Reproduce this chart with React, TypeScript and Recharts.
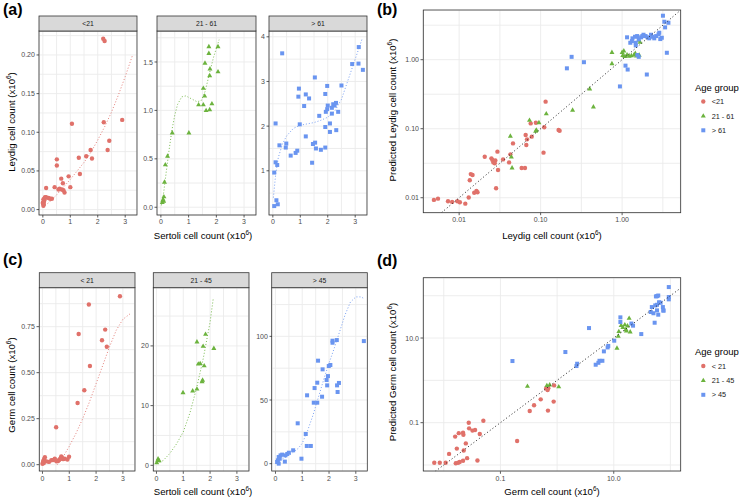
import React from "react";
import { ScatterChart, Scatter, XAxis, YAxis, CartesianGrid } from "recharts";

type Pt = [number, number];
type Box = { x0: number; y0: number; x1: number; y1: number };

const FONT = '"Liberation Sans", Arial, Helvetica, sans-serif';
const RED = "#E0716A";
const GREEN = "#6CB33E";
const BLUE = "#6A95F0";
const GRID = "#EBEBEB";
const INK = "#333333";
const TICK_TXT = "#4D4D4D";

// ---------- panel (a): Leydig vs Sertoli, faceted by age ----------
const leydigGroups = ["<21", "21 - 61", "> 61"];

const leydigYoung: Pt[] = [
  [2.2, 0.221], [2.25, 0.218], [1.06, 0.111], [2.22, 0.113], [2.89, 0.116], [2.42, 0.089],
  [2.36, 0.077], [1.74, 0.077], [1.79, 0.066], [1.58, 0.069], [1.31, 0.067], [0.51, 0.065],
  [0.51, 0.057], [1.35, 0.046], [0.94, 0.043], [0.67, 0.04], [0.73, 0.034], [1.0, 0.029],
  [0.12, 0.028], [0.43, 0.029], [0.61, 0.027], [0.69, 0.026], [0.75, 0.025], [0.79, 0.022],
  [0.57, 0.026], [0.21, 0.015], [0.27, 0.014], [0.33, 0.014], [0.12, 0.016], [0.02, 0.013],
  [0.04, 0.01], [0.01, 0.008], [0.02, 0.005], [0.06, 0.014], [0.07, 0.015], [0.0, 0.009],
  [0.05, 0.012], [0.03, 0.007], [0.08, 0.016],
];
const leydigYoungFit: Pt[] = [
  [0, 0.003], [0.25, 0.01], [0.5, 0.019], [0.75, 0.029], [1, 0.039], [1.25, 0.05], [1.5, 0.061],
  [1.75, 0.074], [2, 0.09], [2.25, 0.107], [2.5, 0.126], [2.75, 0.148], [3, 0.172], [3.27, 0.2],
];

const leydigMid: Pt[] = [
  [1.73, 1.66], [2.06, 1.66], [1.73, 1.59], [1.59, 1.49], [1.77, 1.43], [2.06, 1.4], [1.76, 1.36],
  [1.53, 1.23], [1.58, 1.15], [1.84, 1.07], [1.36, 1.06], [1.53, 1.06], [1.76, 1.01], [1.63, 1.0],
  [0.41, 0.77], [1.01, 0.77], [0.24, 0.53], [0.16, 0.44], [0.13, 0.26], [0.11, 0.11], [0.08, 0.08],
  [0.07, 0.07], [0.05, 0.05], [0.1, 0.065],
];
const leydigMidFit: Pt[] = [
  [0.02, 0.02], [0.1, 0.15], [0.2, 0.38], [0.3, 0.6], [0.4, 0.8], [0.5, 0.95], [0.6, 1.06],
  [0.75, 1.14], [0.9, 1.15], [1.1, 1.12], [1.3, 1.09], [1.45, 1.1], [1.6, 1.2], [1.75, 1.38],
  [1.9, 1.55], [2.1, 1.73],
];

const leydigOld: Pt[] = [
  [0.34, 3.63], [3.13, 3.77], [2.89, 3.39], [3.12, 3.4], [3.28, 3.26], [1.53, 3.09], [2.5, 2.91],
  [1.98, 2.9], [0.95, 2.84], [0.93, 2.66], [1.2, 2.71], [1.32, 2.62], [1.91, 2.72], [1.14, 2.45],
  [2.0, 2.46], [2.2, 2.49], [2.3, 2.52], [2.25, 2.46], [2.15, 2.41], [2.38, 2.32], [2.15, 2.28],
  [1.93, 2.32], [1.98, 2.38], [1.69, 2.23], [2.08, 2.06], [0.1, 2.06], [0.98, 2.04], [1.91, 1.98],
  [2.08, 1.87], [2.31, 1.91], [1.2, 1.77], [0.24, 1.57], [0.49, 1.61], [0.47, 1.52], [1.54, 1.63],
  [1.46, 1.6], [1.57, 1.5], [1.75, 1.47], [1.91, 1.52], [0.89, 1.45], [0.83, 1.4], [0.65, 1.34],
  [1.43, 1.18], [0.1, 1.19], [0.16, 1.13], [0.05, 0.96], [0.13, 0.34], [0.18, 0.25], [0.05, 0.21],
];
const leydigOldFit: Pt[] = [
  [0.02, 0.4], [0.1, 0.9], [0.2, 1.3], [0.35, 1.6], [0.5, 1.78], [0.75, 1.95], [1.0, 2.02],
  [1.25, 2.05], [1.5, 2.08], [1.75, 2.13], [2.0, 2.2], [2.25, 2.33], [2.5, 2.6], [2.75, 3.05],
  [3.0, 3.5], [3.25, 3.95],
];

// ---------- panel (b): predicted vs observed Leydig (log-log) ----------
const leydigPredYoung: Pt[] = [
  [0.0049, 0.0093], [0.0055, 0.0097], [0.0073, 0.0089], [0.0082, 0.0087], [0.0095, 0.0089],
  [0.0102, 0.0086], [0.0119, 0.0082], [0.0131, 0.0101], [0.0139, 0.022], [0.0146, 0.0213],
  [0.0135, 0.0179], [0.0153, 0.0118], [0.0163, 0.0125], [0.0168, 0.012], [0.0206, 0.0393],
  [0.0249, 0.0372], [0.0263, 0.0325], [0.0256, 0.0353], [0.0278, 0.0346], [0.0273, 0.0316],
  [0.0295, 0.0465], [0.03, 0.0252], [0.0284, 0.0137], [0.0346, 0.0359], [0.041, 0.0325],
  [0.0425, 0.0425], [0.0458, 0.0613], [0.0585, 0.027], [0.0643, 0.027], [0.0655, 0.0809],
  [0.0667, 0.058], [0.0681, 0.0701], [0.0777, 0.0767], [0.0755, 0.1194], [0.0874, 0.1222],
  [0.1107, 0.1048], [0.1085, 0.045], [0.1151, 0.2465], [0.166, 0.0958], [0.171, 0.0935],
];
const leydigPredMid: Pt[] = [
  [0.0425, 0.0783], [0.0437, 0.0393], [0.0446, 0.0272], [0.0953, 0.1231], [0.0868, 0.0926],
  [0.0887, 0.0958], [0.073, 0.1334], [0.1173, 0.1652], [0.2467, 0.1868], [0.4443, 0.2082],
  [0.4, 0.38], [0.75, 0.88], [0.75, 1.28], [1.0, 1.28], [1.05, 1.35], [1.02, 1.16], [1.08, 1.12],
  [1.15, 1.18], [1.22, 1.13], [1.3, 1.15], [1.4, 1.18], [1.5, 1.14], [1.45, 1.24], [1.62, 1.17],
  [1.66, 1.8], [1.6, 1.93],
];
const leydigPredOld: Pt[] = [
  [0.21, 0.75], [0.24, 1.1], [0.34, 0.92], [0.94, 0.41], [1.1, 0.82], [1.17, 0.72], [2.01, 0.61],
  [3.54, 1.26], [1.54, 1.17], [1.6, 1.1], [1.15, 2.11], [1.34, 2.04], [1.44, 2.15], [1.53, 2.2],
  [1.71, 2.11], [1.83, 2.3], [1.94, 2.2], [2.05, 2.11], [2.26, 2.3], [2.37, 2.15], [2.48, 2.04],
  [2.62, 2.2], [2.8, 2.33], [2.94, 1.99], [3.07, 2.08], [2.15, 2.04], [1.6, 1.97], [1.32, 1.86],
  [1.47, 1.76], [1.26, 1.76], [1.77, 2.2], [2.86, 2.46], [3.17, 4.34], [3.3, 3.55], [3.7, 3.43],
  [3.37, 2.94], [1.47, 1.61],
];
const leydigIdentity: Pt[] = [[0.0061, 0.0061], [5.19, 5.19]];

// ---------- panel (c): Germ vs Sertoli, faceted by age ----------
const germGroups = ["< 21", "21 - 45", "> 45"];

const germYoung: Pt[] = [
  [2.89, 0.915], [1.73, 0.87], [1.35, 0.71], [2.34, 0.734], [2.22, 0.676], [2.4, 0.641],
  [1.77, 0.536], [1.56, 0.404], [1.31, 0.335], [0.51, 0.203], [0.99, 0.043], [0.02, 0.015],
  [0.04, 0.022], [0.06, 0.03], [0.09, 0.04], [0.15, 0.018], [0.24, 0.015], [0.33, 0.024],
  [0.4, 0.025], [0.46, 0.033], [0.0, 0.005], [0.05, 0.009], [0.52, 0.018], [0.58, 0.02],
  [0.65, 0.03], [0.72, 0.04], [0.77, 0.03], [0.83, 0.032], [0.93, 0.028], [0.7, 0.045],
  [0.62, 0.025], [0.68, 0.035],
];
const germYoungFit: Pt[] = [
  [0.55, 0.0], [0.8, 0.05], [1.0, 0.1], [1.25, 0.17], [1.5, 0.25], [1.75, 0.34], [2.0, 0.44],
  [2.25, 0.54], [2.5, 0.64], [2.75, 0.73], [3.0, 0.79], [3.27, 0.82],
];

const germMid: Pt[] = [
  [1.83, 21.97], [1.51, 20.7], [1.74, 19.97], [2.14, 19.6], [1.56, 17.0], [1.63, 17.07],
  [1.78, 16.7], [1.7, 14.05], [1.51, 12.8], [1.35, 12.5], [0.99, 12.2], [0.06, 1.1], [0.05, 0.84],
  [0.01, 0.45], [0.1, 0.78], [1.72, 14.3],
];
const germMidFit: Pt[] = [
  [0.02, 0.3], [0.25, 0.8], [0.5, 2.0], [0.75, 3.6], [1.0, 5.6], [1.25, 8.8], [1.5, 13.0],
  [1.75, 18.0], [2.0, 24.0], [2.12, 28.0],
];

const germOld: Pt[] = [
  [3.3, 96.3], [2.13, 96.6], [2.13, 95.0], [2.29, 97.1], [1.59, 80.9], [1.76, 74.1], [1.99, 76.7],
  [2.05, 77.5], [1.96, 68.8], [1.91, 65.7], [1.93, 61.5], [1.56, 63.6], [1.46, 59.4], [2.37, 63.4],
  [2.3, 61.5], [2.32, 56.3], [1.74, 52.6], [1.18, 53.7], [1.43, 47.9], [1.56, 47.9], [0.83, 31.7],
  [1.13, 23.3], [1.17, 13.9], [1.32, 13.9], [0.97, 3.9], [0.66, 10.5], [0.5, 8.6], [0.44, 7.6],
  [0.37, 6.5], [0.19, 6.5], [0.12, 5.2], [0.09, 2.6], [0.06, 1.3], [0.16, 3.9], [0.25, 7.1],
  [0.35, 1.6], [0.12, 0.0],
];
const germOldFit: Pt[] = [
  [0.05, 2], [0.3, 4], [0.6, 8], [0.85, 12], [1.0, 16], [1.2, 26], [1.4, 38], [1.6, 52], [1.8, 66],
  [2.0, 79], [2.2, 91], [2.4, 104], [2.6, 117], [2.8, 127], [3.0, 131], [3.2, 131], [3.28, 130],
];

// ---------- panel (d): predicted vs observed Germ (log-log) ----------
const germPredYoung: Pt[] = [
  [0.0068, 0.0113], [0.0085, 0.0113], [0.0108, 0.0113], [0.0163, 0.011], [0.0179, 0.0113],
  [0.0191, 0.0118], [0.0219, 0.0126], [0.0258, 0.0145], [0.0393, 0.0128], [0.0124, 0.0183],
  [0.017, 0.0244], [0.0225, 0.022], [0.0245, 0.0324], [0.0159, 0.0469], [0.0184, 0.0566],
  [0.0219, 0.0578], [0.0222, 0.0517], [0.0276, 0.1], [0.028, 0.0734], [0.0321, 0.0649],
  [0.0357, 0.067], [0.0432, 0.0539], [0.05, 0.111], [0.197, 0.0369], [0.329, 0.189],
  [0.392, 0.258], [0.514, 0.356], [0.69, 0.193], [0.87, 0.315], [0.64, 0.64], [0.68, 0.59],
  [0.7, 0.65], [0.886, 0.76],
];
const germPredMid: Pt[] = [
  [0.3, 0.73], [0.66, 0.76], [0.74, 0.79], [1.07, 0.71], [11.4, 5.8], [12.0, 11.2], [12.3, 14.4],
  [13.5, 19.9], [15.7, 20.7], [18.7, 29.6], [16.4, 16.0], [16.7, 14.9], [19.5, 14.1], [14.5, 18.0],
  [17.5, 19.5],
];
const germPredOld: Pt[] = [
  [0.163, 2.86], [1.4, 4.67], [2.2, 2.18], [2.26, 2.47], [3.66, 17.2], [4.8, 2.34], [5.36, 2.6],
  [5.6, 2.9], [6.3, 2.9], [6.7, 4.84], [7.8, 6.0], [8.0, 6.5], [10.2, 8.65], [13.1, 23.9],
  [13.1, 30.8], [21.9, 19.6], [30.6, 12.4], [44.9, 41.2], [47.0, 53.9], [50.2, 38.5], [52.7, 23.0],
  [54, 59], [55.5, 96.3], [58.1, 97.6], [61, 101], [58, 61], [63, 70], [67.1, 68.2], [73.6, 53.9],
  [75, 45], [61, 35.6], [58, 45], [93.6, 160], [93.6, 93], [93.6, 82], [75.6, 44.3], [20.5, 22],
];
const germIdentity: Pt[] = [[0.0071, 0.0071], [150, 150]];

// ---------- tick values ----------
const sertoliTicks = [0, 0.5, 1, 1.5, 2, 2.5, 3];
const sertoliMajor = [0, 1, 2, 3];
const leydigYoungTicks = [0, 0.025, 0.05, 0.075, 0.1, 0.125, 0.15, 0.175, 0.2, 0.225];
const leydigYoungMajor = [0, 0.05, 0.1, 0.15, 0.2];
const leydigMidTicks = [0, 0.25, 0.5, 0.75, 1, 1.25, 1.5, 1.75];
const leydigMidMajor = [0, 0.5, 1, 1.5];
const leydigOldTicks = [0.5, 1, 1.5, 2, 2.5, 3, 3.5, 4];
const leydigOldMajor = [1, 2, 3, 4];
const germYoungTicks = [0, 0.125, 0.25, 0.375, 0.5, 0.625, 0.75, 0.875];
const germYoungMajor = [0, 0.25, 0.5, 0.75];
const germMidTicks = [0, 5, 10, 15, 20, 25];
const germMidMajor = [0, 10, 20];
const germOldTicks = [0, 25, 50, 75, 100, 125];
const germOldMajor = [0, 50, 100];
const leydigLogTicks = [0.01, 0.0316, 0.1, 0.316, 1, 3.16];
const leydigLogMajor = [0.01, 0.1, 1];
const germLogTicks = [0.01, 0.1, 1, 10, 100];
const germLogMajor = [0.1, 10];

// ---------- layout ----------
const A_BOXES: Box[] = [
  { x0: 39, y0: 31, x1: 137, y1: 215 },
  { x0: 157, y0: 31, x1: 256, y1: 215 },
  { x0: 269, y0: 31, x1: 367, y1: 215 },
];
const C_BOXES: Box[] = [
  { x0: 39.3, y0: 287.7, x1: 135, y1: 471 },
  { x0: 153.3, y0: 287.7, x1: 249, y1: 471 },
  { x0: 271.7, y0: 287.7, x1: 367.3, y1: 471 },
];
const B_BOX: Box = { x0: 423.3, y0: 10, x1: 680.7, y1: 212.7 };
const D_BOX: Box = { x0: 423.3, y0: 277.7, x1: 680.7, y1: 471 };
const STRIP_H = 15;

const YW = 40;
const XH = 20;
const TS = 2.5;
const TM = 1.6;

type Marker = "circle" | "triangle" | "square" | "none";
type Layer = { data: Pt[]; color: string; marker: Marker; line?: "fit" | "identity" };

const isMajor = (v: number, majors: number[]) => majors.some((m) => Math.abs(m - v) < 1e-9);
const toXY = (pts: Pt[]) => pts.map(([x, y]) => ({ x, y }));

function markerShape(m: Marker, color: string) {
  if (m === "circle") return (p: any) => <circle cx={p.cx} cy={p.cy} r={2.2} fill={color} />;
  if (m === "triangle")
    return (p: any) => (
      <polygon
        points={`${p.cx},${p.cy - 2.7} ${p.cx - 2.5},${p.cy + 1.7} ${p.cx + 2.5},${p.cy + 1.7}`}
        fill={color}
      />
    );
  if (m === "square")
    return (p: any) => <rect x={p.cx - 2} y={p.cy - 2} width={4} height={4} fill={color} />;
  return () => <g />;
}

type PanelProps = {
  box: Box;
  xDomain: [number, number];
  yDomain: [number, number];
  xTicks: number[];
  xMajor: number[];
  yTicks: number[];
  yMajor: number[];
  xFmt: (v: number) => string;
  yFmt: (v: number) => string;
  log?: boolean;
  layers: Layer[];
};

function Panel({ box, xDomain, yDomain, xTicks, xMajor, yTicks, yMajor, xFmt, yFmt, log, layers }: PanelProps) {
  const w = box.x1 - box.x0;
  const h = box.y1 - box.y0;
  const xTick = (p: any) => {
    const v = p.payload.value;
    if (!isMajor(v, xMajor)) return <g />;
    return (
      <g>
        <line x1={p.x} x2={p.x} y1={p.y - TM - TS} y2={p.y - TM} stroke={INK} strokeWidth={0.8} />
        <text x={p.x} y={p.y} dy="0.75em" textAnchor="middle" fontSize={7} fill={TICK_TXT} fontFamily={FONT}>
          {xFmt(v)}
        </text>
      </g>
    );
  };
  const yTick = (p: any) => {
    const v = p.payload.value;
    if (!isMajor(v, yMajor)) return <g />;
    return (
      <g>
        <line x1={p.x + TM} x2={p.x + TM + TS} y1={p.y} y2={p.y} stroke={INK} strokeWidth={0.8} />
        <text x={p.x} y={p.y} dy="0.36em" textAnchor="end" fontSize={7} fill={TICK_TXT} fontFamily={FONT}>
          {yFmt(v)}
        </text>
      </g>
    );
  };
  return (
    <div style={{ position: "absolute", left: box.x0 - YW, top: box.y0 }}>
      <ScatterChart width={w + YW} height={h + XH} margin={{ top: 0, right: 0, bottom: 0, left: 0 }}>
        <CartesianGrid stroke={GRID} strokeWidth={0.9} />
        <XAxis
          type="number"
          dataKey="x"
          domain={xDomain}
          allowDataOverflow
          scale={log ? "log" : "linear"}
          ticks={xTicks}
          interval={0}
          height={XH}
          axisLine={false}
          tickLine={false}
          tickSize={TS}
          tickMargin={TM}
          tick={xTick}
        />
        <YAxis
          type="number"
          dataKey="y"
          domain={yDomain}
          allowDataOverflow
          scale={log ? "log" : "linear"}
          ticks={yTicks}
          interval={0}
          width={YW}
          axisLine={false}
          tickLine={false}
          tickSize={TS}
          tickMargin={TM}
          tick={yTick}
        />
        {layers.map((l, i) => (
          <Scatter
            key={i}
            data={toXY(l.data)}
            fill={l.color}
            isAnimationActive={false}
            shape={markerShape(l.marker, l.color)}
            line={
              l.line
                ? {
                    stroke: l.color,
                    strokeWidth: l.line === "identity" ? 1 : 0.9,
                    strokeDasharray: l.line === "identity" ? "1 2.4" : "1 2",
                  }
                : false
            }
          />
        ))}
      </ScatterChart>
    </div>
  );
}

const GROUP_COLORS = [RED, GREEN, BLUE];
const GROUP_MARKERS: Marker[] = ["circle", "triangle", "square"];
const fix = (n: number) => (v: number) => v.toFixed(n);
const plain = (v: number) => String(v);

function AxisTitle({ x, y, label, rotate }: { x: number; y: number; label: string; rotate?: boolean }) {
  return (
    <text
      x={x}
      y={y}
      textAnchor="middle"
      fontSize={9.6}
      fill="#000"
      fontFamily={FONT}
      transform={rotate ? `rotate(-90 ${x} ${y})` : undefined}
    >
      {label} (x10
      <tspan dy={-3.6} fontSize={6.4}>
        6
      </tspan>
      <tspan dy={3.6}>)</tspan>
    </text>
  );
}

function LegendKey({ x, y, title, labels }: { x: number; y: number; title: string; labels: string[] }) {
  return (
    <g fontFamily={FONT}>
      <text x={x} y={y} fontSize={9.5} fill="#000">
        {title}
      </text>
      {labels.map((lab, i) => {
        const cy = y + 11 + i * 14.4;
        const cx = x + 8.3;
        const c = GROUP_COLORS[i];
        return (
          <g key={lab}>
            {i === 0 && <circle cx={cx} cy={cy} r={2.2} fill={c} />}
            {i === 1 && (
              <polygon points={`${cx},${cy - 2.7} ${cx - 2.5},${cy + 1.7} ${cx + 2.5},${cy + 1.7}`} fill={c} />
            )}
            {i === 2 && <rect x={cx - 2} y={cy - 2} width={4} height={4} fill={c} />}
            <text x={x + 16.7} y={cy} dy="0.36em" fontSize={7.3} fill="#1A1A1A">
              {lab}
            </text>
          </g>
        );
      })}
    </g>
  );
}

function Overlay() {
  const boxes = [...A_BOXES, ...C_BOXES, B_BOX, D_BOX];
  const strips = [
    ...A_BOXES.map((b, i) => ({ b, label: leydigGroups[i] })),
    ...C_BOXES.map((b, i) => ({ b, label: germGroups[i] })),
  ];
  return (
    <svg
      width={739}
      height={499}
      style={{ position: "absolute", left: 0, top: 0, pointerEvents: "none" }}
    >
      {boxes.map((b, i) => (
        <rect key={i} x={b.x0} y={b.y0} width={b.x1 - b.x0} height={b.y1 - b.y0} fill="none" stroke={INK} strokeWidth={0.8} />
      ))}
      {strips.map(({ b, label }, i) => (
        <g key={"s" + i}>
          <rect x={b.x0} y={b.y0 - STRIP_H} width={b.x1 - b.x0} height={STRIP_H} fill="#D9D9D9" stroke={INK} strokeWidth={0.8} />
          <text
            x={(b.x0 + b.x1) / 2}
            y={b.y0 - STRIP_H / 2}
            dy="0.36em"
            textAnchor="middle"
            fontSize={6.8}
            fill="#1A1A1A"
            fontFamily={FONT}
          >
            {label}
          </text>
        </g>
      ))}
      <g fontFamily={FONT} fontWeight="bold" fontSize={16} fill="#000">
        <text x={3} y={15}>(a)</text>
        <text x={377} y={15}>(b)</text>
        <text x={3} y={265}>(c)</text>
        <text x={377} y={266}>(d)</text>
      </g>
      <AxisTitle x={203} y={239} label="Sertoli cell count" />
      <AxisTitle x={14.5} y={122} label="Leydig cell count" rotate />
      <AxisTitle x={552} y={239} label="Leydig cell count" />
      <AxisTitle x={395.5} y={110} label="Predicted Leydig cell count" rotate />
      <AxisTitle x={203} y={495} label="Sertoli cell count" />
      <AxisTitle x={14.5} y={385} label="Germ cell count" rotate />
      <AxisTitle x={552} y={495} label="Germ cell count" />
      <AxisTitle x={395.5} y={372} label="Predicted Germ cell count" rotate />
      <LegendKey x={695} y={90.5} title="Age group" labels={leydigGroups} />
      <LegendKey x={695} y={355} title="Age group" labels={germGroups} />
    </svg>
  );
}

export default function App() {
  return (
    <div
      style={{
        position: "absolute",
        left: 0,
        top: 0,
        width: 739,
        height: 499,
        background: "#fff",
        overflow: "hidden",
        fontFamily: FONT,
      }}
    >
      <Panel
        box={A_BOXES[0]}
        xDomain={[-0.14, 3.43]}
        yDomain={[-0.007, 0.231]}
        xTicks={sertoliTicks}
        xMajor={sertoliMajor}
        yTicks={leydigYoungTicks}
        yMajor={leydigYoungMajor}
        xFmt={plain}
        yFmt={fix(2)}
        layers={[
          { data: leydigYoung, color: RED, marker: "circle" },
          { data: leydigYoungFit, color: RED, marker: "none", line: "fit" },
        ]}
      />
      <Panel
        box={A_BOXES[1]}
        xDomain={[-0.14, 3.43]}
        yDomain={[-0.08, 1.82]}
        xTicks={sertoliTicks}
        xMajor={sertoliMajor}
        yTicks={leydigMidTicks}
        yMajor={leydigMidMajor}
        xFmt={plain}
        yFmt={fix(1)}
        layers={[
          { data: leydigMid, color: GREEN, marker: "triangle" },
          { data: leydigMidFit, color: GREEN, marker: "none", line: "fit" },
        ]}
      />
      <Panel
        box={A_BOXES[2]}
        xDomain={[-0.14, 3.43]}
        yDomain={[0.01, 4.13]}
        xTicks={sertoliTicks}
        xMajor={sertoliMajor}
        yTicks={leydigOldTicks}
        yMajor={leydigOldMajor}
        xFmt={plain}
        yFmt={plain}
        layers={[
          { data: leydigOld, color: BLUE, marker: "square" },
          { data: leydigOldFit, color: BLUE, marker: "none", line: "fit" },
        ]}
      />
      <Panel
        box={B_BOX}
        xDomain={[0.0036, 5.19]}
        yDomain={[0.00607, 5.25]}
        xTicks={leydigLogTicks}
        xMajor={leydigLogMajor}
        yTicks={leydigLogTicks}
        yMajor={leydigLogMajor}
        xFmt={fix(2)}
        yFmt={fix(2)}
        log
        layers={[
          { data: leydigPredYoung, color: GROUP_COLORS[0], marker: GROUP_MARKERS[0] },
          { data: leydigPredMid, color: GROUP_COLORS[1], marker: GROUP_MARKERS[1] },
          { data: leydigPredOld, color: GROUP_COLORS[2], marker: GROUP_MARKERS[2] },
          { data: leydigIdentity, color: "#222", marker: "none", line: "identity" },
        ]}
      />
      <Panel
        box={C_BOXES[0]}
        xDomain={[-0.13, 3.44]}
        yDomain={[-0.036, 0.96]}
        xTicks={sertoliTicks}
        xMajor={sertoliMajor}
        yTicks={germYoungTicks}
        yMajor={germYoungMajor}
        xFmt={plain}
        yFmt={fix(2)}
        layers={[
          { data: germYoung, color: RED, marker: "circle" },
          { data: germYoungFit, color: RED, marker: "none", line: "fit" },
        ]}
      />
      <Panel
        box={C_BOXES[1]}
        xDomain={[-0.13, 3.44]}
        yDomain={[-1.0, 29.7]}
        xTicks={sertoliTicks}
        xMajor={sertoliMajor}
        yTicks={germMidTicks}
        yMajor={germMidMajor}
        xFmt={plain}
        yFmt={plain}
        layers={[
          { data: germMid, color: GREEN, marker: "triangle" },
          { data: germMidFit, color: GREEN, marker: "none", line: "fit" },
        ]}
      />
      <Panel
        box={C_BOXES[2]}
        xDomain={[-0.13, 3.44]}
        yDomain={[-6, 138]}
        xTicks={sertoliTicks}
        xMajor={sertoliMajor}
        yTicks={germOldTicks}
        yMajor={germOldMajor}
        xFmt={plain}
        yFmt={plain}
        layers={[
          { data: germOld, color: BLUE, marker: "square" },
          { data: germOldFit, color: BLUE, marker: "none", line: "fit" },
        ]}
      />
      <Panel
        box={D_BOX}
        xDomain={[0.0043, 150]}
        yDomain={[0.0071, 262]}
        xTicks={germLogTicks}
        xMajor={germLogMajor}
        yTicks={germLogTicks}
        yMajor={germLogMajor}
        xFmt={fix(1)}
        yFmt={fix(1)}
        log
        layers={[
          { data: germPredYoung, color: GROUP_COLORS[0], marker: GROUP_MARKERS[0] },
          { data: germPredMid, color: GROUP_COLORS[1], marker: GROUP_MARKERS[1] },
          { data: germPredOld, color: GROUP_COLORS[2], marker: GROUP_MARKERS[2] },
          { data: germIdentity, color: "#222", marker: "none", line: "identity" },
        ]}
      />
      <Overlay />
    </div>
  );
}
